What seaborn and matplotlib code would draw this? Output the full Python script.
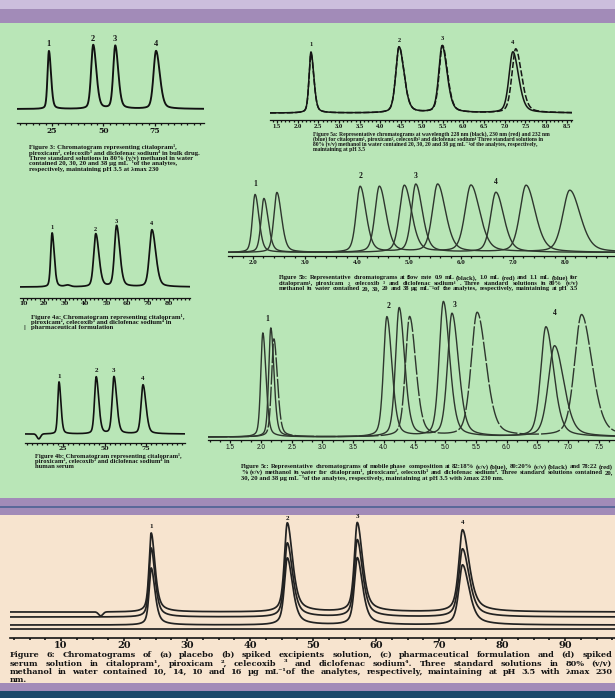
import numpy as np
import matplotlib
matplotlib.use("Agg")
import matplotlib.pyplot as plt
import seaborn as sns
from matplotlib.patches import Rectangle
from matplotlib.ticker import MultipleLocator

# ======================= DATA =======================
peak_names = ["1", "2", "3", "4"]

# Figure 3 - bulk drug
fig3_rt = [23.5, 45.0, 55.7, 75.5]
fig3_height = [58, 64, 63, 58]
fig3_width = [1.6, 2.4, 2.3, 2.9]
fig3_ticks = [25, 50, 75]
fig3_ticklabels = ["25", "50", "75"]

# Figure 4a - pharmaceutical formulation
fig4a_rt = [24.0, 45.0, 55.0, 72.0]
fig4a_height = [54, 53, 61, 57]
fig4a_width = [1.6, 2.4, 2.4, 2.9]
fig4a_bump_rt = [31.5]
fig4a_bump_height = [1.5]
fig4a_bump_width = [3.0]
fig4a_ticks = [10, 20, 30, 40, 50, 60, 70, 80]
fig4a_ticklabels = ["10", "20", "30", "40", "50", "60", "70", "80"]

# Figure 4b - human serum
fig4b_rt = [22.6, 45.0, 55.7, 73.2]
fig4b_height = [52, 57, 57, 49]
fig4b_width = [1.8, 2.4, 2.6, 2.8]
fig4b_dip_rt = [10.4]
fig4b_dip_height = [-5]
fig4b_dip_width = [2.5]
fig4b_ticks = [25, 50, 75]
fig4b_ticklabels = ["25", "50", "75"]

# Figure 5a - wavelength 228 / 230 / 232 nm
fig5a_rt_a = [2.32, 4.45, 5.49, 7.20]
fig5a_rt_b = [2.32, 4.45, 5.50, 7.27]
fig5a_height_a = [61, 66, 67, 61]
fig5a_height_b = [59, 66, 67, 64]
fig5a_width = [0.11, 0.19, 0.19, 0.22]
fig5a_ticks = [1.5, 2.0, 2.5, 3.0, 3.5, 4.0, 4.5, 5.0, 5.5, 6.0, 6.5, 7.0, 7.5, 8.0, 8.5]
fig5a_ticklabels = ["1.5", "2.0", "2.5", "3.0", "3.5", "4.0", "4.5", "5.0",
                    "5.5", "6.0", "6.5", "7.0", "7.5", "8.0", "8.5"]

# Figure 5b - flow rate 1.1 / 1.0 / 0.9 mL
fig5b_rt = [[2.04, 4.06, 5.13, 6.67],
            [2.21, 4.43, 5.55, 7.25],
            [2.46, 4.91, 6.19, 8.09]]
fig5b_height = [[58, 66, 68, 60],
                [54, 66, 68, 67],
                [60, 67, 67, 62]]
fig5b_width = [[0.12, 0.18, 0.20, 0.24],
               [0.13, 0.20, 0.24, 0.28],
               [0.14, 0.22, 0.27, 0.32]]
fig5b_ticks = [2.0, 3.0, 4.0, 5.0, 6.0, 7.0, 8.0]
fig5b_ticklabels = ["2.0", "3.0", "4.0", "5.0", "6.0", "7.0", "8.0"]

# Figure 5c - mobile phase composition
fig5c_rt = [[2.03, 4.05, 4.97, 6.64],
            [2.16, 4.25, 5.11, 6.78],
            [2.21, 4.42, 5.52, 7.22]]
fig5c_height = [[104, 120, 135, 110],
                [109, 129, 123, 91],
                [98, 120, 124, 122]]
fig5c_width = [[0.08, 0.13, 0.16, 0.20],
               [0.08, 0.14, 0.17, 0.24],
               [0.09, 0.16, 0.23, 0.27]]
fig5c_ticks = [1.5, 2.0, 2.5, 3.0, 3.5, 4.0, 4.5, 5.0, 5.5, 6.0, 6.5, 7.0, 7.5]
fig5c_ticklabels = ["1.5", "2.0", "2.5", "3.0", "3.5", "4.0", "4.5", "5.0",
                    "5.5", "6.0", "6.5", "7.0", "7.5"]

# Figure 6 - (a) placebo (b) excipients (c) formulation (d) spiked serum
fig6_rt = [24.3, 45.9, 57.0, 73.7]
fig6_offset = [0, 4, 12, 17]
fig6_height = [[0, 0, 0, 0],
               [57, 67, 67, 60],
               [69, 74, 77, 68],
               [79, 89, 89, 82]]
fig6_width = [0.8, 1.1, 1.1, 1.4]
fig6_dip_rt = [16.3]
fig6_dip_height = [-4]
fig6_dip_width = [0.8]
fig6_ticks = [10, 20, 30, 40, 50, 60, 70, 80, 90]
fig6_ticklabels = ["10", "20", "30", "40", "50", "60", "70", "80", "90"]

# captions
cap3 = ["Figure 3: Chromatogram representing citalopram¹,",
        "piroxicam², celecoxib³ and diclofenac sodium⁴ in bulk drug.",
        "Three standard solutions in 80% (v/v) methanol in water",
        "contained 20, 30, 20 and 38 µg mL⁻¹of the analytes,",
        "respectively, maintaining pH 3.5 at λmax 230"]
cap4a = ["Figure 4a: Chromatogram representing citalopram¹,",
         "piroxicam², celecoxib³ and diclofenac sodium⁴ in",
         "pharmaceutical formulation"]
cap4b = ["Figure 4b: Chromatogram representing citalopram¹,",
         "piroxicam², celecoxib³ and diclofenac sodium⁴ in",
         "human serum"]
cap5a = ["Figure 5a: Representative chromatograms at wavelength 228 nm (black), 230 nm (red) and 232 nm",
         "(blue) for citalopram¹, piroxicam², celecoxib³ and diclofenac sodium⁴ Three standard solutions in",
         "80% (v/v) methanol in water contained 20, 30, 20 and 38 µg mL⁻¹of the analytes, respectively,",
         "maintaining at pH 3.5"]
cap5b = ["Figure 5b: Representative chromatograms at flow rate 0.9 mL (black), 1.0 mL (red) and 1.1 mL (blue) for",
         "citalopram¹, piroxicam ², celecoxib ³ and diclofenac sodium⁴ . Three standard solutions in 80% (v/v)",
         "methanol in water contained 20, 30, 20 and 38 µg mL⁻¹of the analytes, respectively, maintaining at pH 3.5"]
cap5c = ["Figure 5c: Representative chromatograms of mobile phase composition at 82:18% (v/v) (blue), 80:20% (v/v) (black) and 78:22 (red)",
         "% (v/v) methanol in water for citalopram¹, piroxicam², celecoxib³ and diclofenac sodium⁴. Three standard solutions contained 20,",
         "30, 20 and 38 µg mL⁻¹of the analytes, respectively, maintaining at pH 3.5 with λmax 230 nm."]
cap6 = ["Figure 6: Chromatograms of (a) placebo (b) spiked excipients solution, (c) pharmaceutical formulation and (d) spiked",
        "serum solution in citalopram¹, piroxicam ², celecoxib ³ and diclofenac sodium⁴. Three standard solutions in 80% (v/v)",
        "methanol in water contained 10, 14, 10 and 16 µg mL⁻¹of the analytes, respectively, maintaining at pH 3.5 with λmax 230",
        "nm."]

# ======================= STYLE / LAYOUT =======================
W, H = 615, 698
INK = "#141414"
SERIF = ["Liberation Serif", "DejaVu Serif", "DejaVu Sans"]
DSERIF = ["DejaVu Serif", "DejaVu Sans"]
SANS = ["Liberation Sans", "DejaVu Sans"]

sns.set_theme(style="white")
plt.rcParams["font.family"] = SERIF
plt.rcParams["axes.unicode_minus"] = False

fig = plt.figure(figsize=(W / 100, H / 100), dpi=100)
renderer = fig.canvas.get_renderer()


def fy(y):
    return 1 - y / H


bands = [(0, 9, "#ccbedd"), (9, 23, "#a28bb8"), (23, 498, "#b9e6b7"),
         (498, 515, "#a28bb8"), (506, 508, "#5a6899"), (515, 683, "#f7e4cf"),
         (683, 691, "#a28bb8"), (691, 698, "#1c4a6a")]
for y0, y1, c in bands:
    fig.add_artist(Rectangle((0, fy(y1)), 1, (y1 - y0) / H, transform=fig.transFigure,
                             facecolor=c, edgecolor="none", zorder=-10))


def peak_sum(x, rts, hs, ws, tail=1.5, eta=0.35):
    y = np.zeros_like(x)
    for t, h, w in zip(rts, hs, ws):
        ww = np.where(x < t, w, w * tail)
        z = (x - t) / ww
        y += h * (eta / (1 + 4 * z ** 2) + (1 - eta) * np.exp(-4 * np.log(2) * z ** 2))
    return y


def make_panel(px0, px1, axis_y, base_y, top_y, xlim, ticks, labels, minor,
               tfs, tfam, tweight, pad, slw=0.8, mlen=2.2, nlen=1.3):
    ax = fig.add_axes([px0 / W, fy(axis_y), (px1 - px0) / W, (axis_y - top_y) / H])
    ax.patch.set_alpha(0)
    for s in ("left", "right", "top"):
        ax.spines[s].set_visible(False)
    ax.spines["bottom"].set_color(INK)
    ax.spines["bottom"].set_linewidth(slw)
    ax.set_yticks([])
    ax.set_xticks(ticks, labels, fontsize=tfs, family=tfam, weight=tweight, color=INK)
    ax.xaxis.set_minor_locator(MultipleLocator(minor))
    ax.tick_params(axis="x", which="major", bottom=True, direction="out", length=mlen,
                   width=slw, color=INK, pad=pad)
    ax.tick_params(axis="x", which="minor", bottom=True, direction="out", length=nlen,
                   width=slw, color=INK)
    ax.grid(False)
    ax._lims = (xlim, (-(axis_y - base_y), base_y - top_y))
    return ax


def finish(ax):
    ax.set_xlim(*ax._lims[0])
    ax.set_ylim(*ax._lims[1])
    ax.set_xlabel("")
    ax.set_ylabel("")


def draw(ax, y_func, color, lw, ls="-"):
    xl = ax._lims[0]
    x = np.linspace(xl[0], xl[1], 3000)
    y = y_func(x)
    sns.lineplot(x=x, y=y, ax=ax, color=color, linewidth=lw, linestyle=ls,
                 estimator=None, sort=False, legend=False)


def peak_labels(ax, xs, ys, fs):
    for name, x, y in zip(peak_names, xs, ys):
        ax.text(x, y, name, ha="center", va="center", fontsize=fs, weight="bold",
                family=SERIF, color=INK, clip_on=False)


def text_width(s, fs, fam, weight):
    t = fig.text(0, 0, s, fontsize=fs, family=fam, weight=weight)
    w = t.get_window_extent(renderer).width
    t.remove()
    return w


def caption(lines, x0, y0, dy, first_width=None, fam=SERIF, weight="bold", justify_to=None,
            justify_lines=(), fs=None, bold_first=0):
    if fs is None:
        fs = 10 * first_width / text_width(lines[0], 10, fam, weight)
    for i, line in enumerate(lines):
        y = y0 + i * dy
        if justify_to is not None and i in justify_lines:
            words = line.split(" ")
            objs = []
            for k, w in enumerate(words):
                wt = "bold" if (i == 0 and k < bold_first) else weight
                objs.append(fig.text(0, fy(y), w, fontsize=fs, family=fam, weight=wt,
                                     color=INK, va="center", ha="left"))
            widths = [o.get_window_extent(renderer).width for o in objs]
            gap = (justify_to - x0 - sum(widths)) / max(len(words) - 1, 1)
            x = x0
            for o, wd in zip(objs, widths):
                o.set_x(x / W)
                x += wd + gap
        else:
            fig.text(x0 / W, fy(y), line, fontsize=fs, family=fam, weight=weight,
                     color=INK, va="center", ha="left")
    return fs


# ---------------- Figure 3 ----------------
ax = make_panel(17, 204, 123, 109, 40, (8.0, 98.8), fig3_ticks, fig3_ticklabels, 25 / 8,
                5.5, DSERIF, "bold", 0.6, slw=0.9)
draw(ax, lambda x: peak_sum(x, fig3_rt, fig3_height, fig3_width, 1.5, 0.3), "#111111", 1.35)
peak_labels(ax, fig3_rt, [65, 70, 70, 65], 6)
finish(ax)
caption(cap3, 29, 147, 5.5, 148)

# ---------------- Figure 4a ----------------
ax = make_panel(20, 190, 298, 287, 215, (8.56, 90.3), fig4a_ticks, fig4a_ticklabels, 2,
                4.3, DSERIF, "bold", 0.3, slw=0.9, mlen=1.8, nlen=1.2)
draw(ax, lambda x: peak_sum(x, fig4a_rt, fig4a_height, fig4a_width, 1.5, 0.3)
     + peak_sum(x, fig4a_bump_rt, fig4a_bump_height, fig4a_bump_width, 1.0, 0.0),
     "#111111", 1.25)
peak_labels(ax, fig4a_rt, [60, 58, 66, 64], 4.5)
finish(ax)
caption(cap4a, 31, 316.7, 5.5, 154)
fig.text(24 / W, fy(327.7), "||", fontsize=4.5, weight="bold", color=INK, va="center")

# ---------------- Figure 4b ----------------
ax = make_panel(25, 185, 443, 434, 360, (2.1, 98.5), fig4b_ticks, fig4b_ticklabels, 25 / 8,
                4.5, DSERIF, "bold", 0.3, slw=0.9, mlen=1.8, nlen=1.2)
draw(ax, lambda x: peak_sum(x, fig4b_rt, fig4b_height, fig4b_width, 1.5, 0.3)
     + peak_sum(x, fig4b_dip_rt, fig4b_dip_height, fig4b_dip_width, 1.0, 0.0),
     "#111111", 1.2)
peak_labels(ax, fig4b_rt, [58, 63, 63, 56], 5)
finish(ax)
caption(cap4b, 35, 456, 5.3, 148)

# ---------------- Figure 5a ----------------
ax = make_panel(270, 572, 120, 113, 32, (1.33, 8.63), fig5a_ticks, fig5a_ticklabels, 0.1,
                4.8, SERIF, "bold", 0.8, slw=0.9, mlen=2.0, nlen=1.2)
draw(ax, lambda x: peak_sum(x, fig5a_rt_a, fig5a_height_a, fig5a_width, 1.5, 0.35), "#151515", 1.1)
draw(ax, lambda x: peak_sum(x, fig5a_rt_b, fig5a_height_b, fig5a_width, 1.5, 0.35), "#151515", 1.1,
     ls=(0, (4, 1.5)))
peak_labels(ax, fig5a_rt_a, [69, 73, 75, 71], 4.6)
finish(ax)
caption(cap5a, 313, 134.3, 4.9, 240)

# ---------------- Figure 5b ----------------
ax = make_panel(228, 615, 256, 252.5, 170, (1.52, 8.96), fig5b_ticks, fig5b_ticklabels, 0.2,
                5.0, SERIF, "bold", 0.8, slw=0.9, mlen=2.0, nlen=1.2)
for rts, hs, ws in zip(fig5b_rt, fig5b_height, fig5b_width):
    draw(ax, lambda x, r=rts, h=hs, w=ws: peak_sum(x, r, h, w, 1.5, 0.35), "#2e362e", 1.0)
peak_labels(ax, fig5b_rt[0], [69, 76, 76, 70], 5.5)
finish(ax)
caption(cap5b, 279, 277.7, 5.6, 292, justify_to=578, justify_lines=(0, 1, 2))

# ---------------- Figure 5c ----------------
ax = make_panel(208, 615, 440, 437, 300, (1.137, 7.765), fig5c_ticks, fig5c_ticklabels, 1 / 6,
                4.7, SANS, "normal", 1.0, slw=0.9, mlen=2.0, nlen=1.2)
styles5c = ["-", "-", (0, (14, 1.5))]
for rts, hs, ws, ls in zip(fig5c_rt, fig5c_height, fig5c_width, styles5c):
    draw(ax, lambda x, r=rts, h=hs, w=ws: peak_sum(x, r, h, w, 1.5, 0.35), "#2e362e", 1.0, ls=ls)
peak_labels(ax, [2.10, 4.08, 5.15, 6.78], [118, 131, 132, 124], 5.5)
finish(ax)
caption(cap5c, 241, 466.7, 5.5, 370, justify_to=613, justify_lines=(0, 1))

# ---------------- Figure 6 ----------------
ax = make_panel(10, 615, 638, 629, 515, (1.9, 97.9), fig6_ticks, fig6_ticklabels, 2.5,
                7, DSERIF, "bold", 0.2, slw=1.2, mlen=2.0, nlen=1.4)
for i, (off, hs) in enumerate(zip(fig6_offset, fig6_height)):
    def f(x, off=off, hs=hs, i=i):
        y = off + peak_sum(x, fig6_rt, hs, fig6_width, 1.8, 0.6)
        if i == 3:
            y = y + peak_sum(x, fig6_dip_rt, fig6_dip_height, fig6_dip_width, 1.0, 0.0)
        return y
    draw(ax, f, "#222222", 1.25)
peak_labels(ax, fig6_rt, [102, 111, 112, 107], 5)
finish(ax)
caption(cap6, 10, 655, 8.5, fam=DSERIF, weight="bold", justify_to=612,
        justify_lines=(0, 1, 2), fs=5.9, bold_first=2)

fig.savefig("out.png", dpi=100)
